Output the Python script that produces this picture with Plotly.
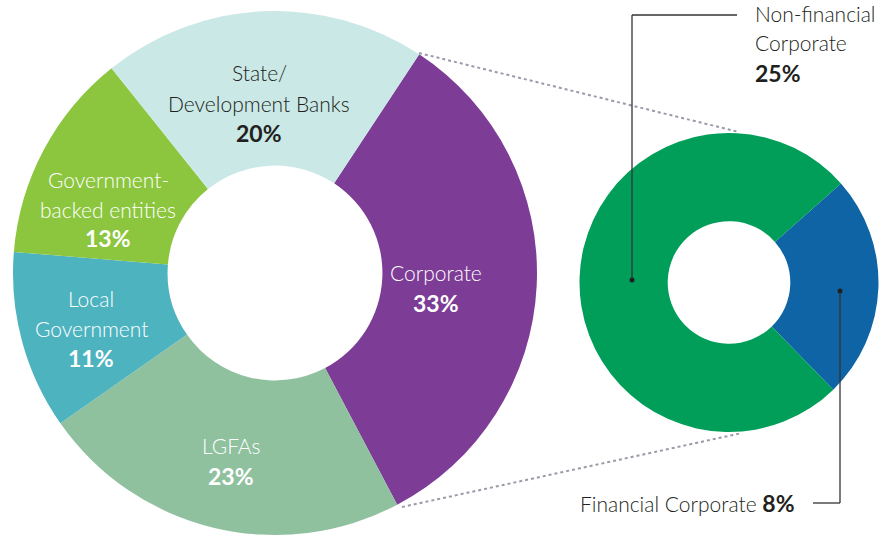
import plotly.graph_objects as go
from plotly.graph_objects import Figure

W, H = 893, 538
FONT = "Lato"
DARK, WHITE = "#231F20", "#FFFFFF"
TEXT_SIZE, PCT_SIZE = 21, 23

# DATA ---------------------------------------------------------------
sectors = ["Corporate", "LGFAs", "Local Government", "Government-backed entities", "State/Development Banks"]
sector_share = [33, 23, 11, 13, 20]
sector_colors = ["#7D3C96", "#8FC19F", "#4DB3BF", "#8CC63F", "#C9E8E6"]

corporates = ["Financial Corporate", "Non-financial Corporate"]
corporate_share = [8, 25]
corporate_colors = ["#0F64A6", "#009E58"]


def px(x: float, y: float) -> tuple:
    '''
    Turn a pixel position (from the top left) into paper coordinates.
    '''
    return x / W, 1 - y / H


def add_label(fig: Figure, lines: list, x: float, ys: list, color: str, anchor: str = 'center') -> None:
    '''
    Write a multi-line label, one annotation per line, last line bold.
    '''
    for i, (line, y) in enumerate(zip(lines, ys)):
        last = i == len(lines) - 1
        ax, ay = px(x, y)
        fig.add_annotation(x=ax, y=ay, xref='paper', yref='paper', text=line, showarrow=False,
                           xanchor=anchor, yanchor='middle',
                           font=dict(family=FONT, size=PCT_SIZE if last else TEXT_SIZE, color=color,
                                     weight=700 if last else 300))


# DONUTS -------------------------------------------------------------
def create_donut_figure() -> Figure:
    '''
    Create the sector donut with its corporate break-out donut and return it.
    '''
    fig = go.Figure()
    fig.add_trace(go.Pie(labels=sectors, values=sector_share, hole=0.41, sort=False,
                         direction='clockwise', rotation=33.4, textinfo='none', hoverinfo='label+percent',
                         marker=dict(colors=sector_colors, line=dict(width=0)),
                         domain=dict(x=[13 / W, 537 / W], y=[1 - 535 / H, 1 - 11 / H])))
    fig.add_trace(go.Pie(labels=corporates, values=corporate_share, hole=0.41, sort=False,
                         direction='clockwise', rotation=48.5, textinfo='none', hoverinfo='label+value',
                         marker=dict(colors=corporate_colors, line=dict(width=0)),
                         domain=dict(x=[579.5 / W, 878.5 / W], y=[1 - 432 / H, 1 - 133 / H])))

    # dotted zoom lines between the donuts
    for (x0, y0), (x1, y1) in [((419, 53), (739, 132)), ((402, 507), (742, 433))]:
        a, b = px(x0, y0)
        c, d = px(x1, y1)
        fig.add_shape(type='line', xref='paper', yref='paper', x0=a, y0=b, x1=c, y1=d,
                      line=dict(color="#9A9AA8", width=2, dash='dot'))

    # leader lines for the break-out labels
    for path in [[(632, 280), (632, 15), (737, 15)], [(840, 291), (840, 503), (813, 503)]]:
        for (x0, y0), (x1, y1) in zip(path[:-1], path[1:]):
            a, b = px(x0, y0)
            c, d = px(x1, y1)
            fig.add_shape(type='line', xref='paper', yref='paper', x0=a, y0=b, x1=c, y1=d,
                          line=dict(color="#333333", width=1.3))
        a, b = px(*path[0])
        fig.add_shape(type='circle', xref='paper', yref='paper', x0=a - 2.5 / W, x1=a + 2.5 / W,
                      y0=b - 2.5 / H, y1=b + 2.5 / H, fillcolor="#231F20", line=dict(width=0))

    # slice labels
    add_label(fig, ["State/", "Development Banks", "20%"], 259, [73, 103, 133], DARK)
    add_label(fig, ["Government-", "backed entities", "13%"], 108, [180, 209, 238], WHITE)
    add_label(fig, ["Local", "Government", "11%"], 91, [298, 328, 358], WHITE)
    add_label(fig, ["Corporate", "33%"], 436, [272, 303], WHITE)
    add_label(fig, ["LGFAs", "23%"], 231, [445, 476], WHITE)
    add_label(fig, ["Non-financial", "Corporate", "25%"], 753, [13, 43, 73], DARK, anchor='left')
    fx, fy = px(797, 503)
    fig.add_annotation(x=fx, y=fy, xref='paper', yref='paper',
                       text=f"Financial Corporate <b><span style='font-size:{PCT_SIZE}px'>8%</span></b>",
                       showarrow=False, xanchor='right', yanchor='middle',
                       font=dict(family=FONT, size=TEXT_SIZE, color=DARK, weight=300))

    fig.update_layout(width=W, height=H, showlegend=False, margin=dict(l=0, r=0, t=0, b=0),
                      paper_bgcolor='white', plot_bgcolor='white')
    return fig


fig = create_donut_figure()
fig.write_html("out.html", config={'displayModeBar': False},
               post_script="document.body.style.margin = '0';")
